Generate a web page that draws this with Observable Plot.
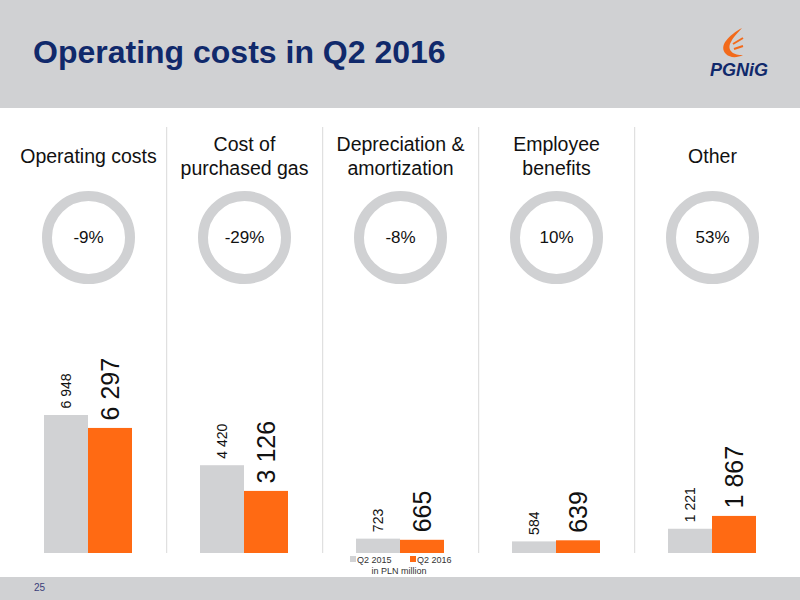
<!DOCTYPE html>
<html>
<head>
<meta charset="utf-8">
<script src="https://cdn.jsdelivr.net/npm/d3@7"></script>
<script src="https://cdn.jsdelivr.net/npm/@observablehq/plot@0.6"></script>
<style>
  html, body { margin: 0; padding: 0; background: #fff; }
  body { width: 800px; height: 600px; position: relative; overflow: hidden; font-family: "Liberation Sans", Arial, sans-serif; }
  #header, #footer, #chart, #legend { position: absolute; left: 0; }
  #header { top: 0; }
  #chart { top: 108px; }
  #footer { top: 577px; }
  #legend { top: 552px; left: 300px; }
</style>
</head>
<body>
<svg id="header" width="800" height="108">
  <rect width="800" height="108" fill="#d0d1d3"></rect>
  <text x="33" y="63" font-family="Liberation Sans, Arial, sans-serif" font-weight="bold" font-size="32" fill="#10296b">Operating costs in Q2 2016</text>
  <path d="M742 28 C729 35 718 46 726 54 C730 58 737 58 743 55 C734 56 726 50 731 42 C733 37 738 33 742 28 Z" fill="#f26a1b"></path>
  <path d="M733 44 L743 38 M734 49 L743 46" stroke="#f26a1b" stroke-width="2" fill="none"></path>
  <text x="739" y="76" text-anchor="middle" font-family="Liberation Sans, Arial, sans-serif" font-weight="bold" font-style="italic" font-size="18" fill="#10296b">PGNiG</text>
</svg>
<div id="chart"></div>
<svg id="legend" width="200" height="26">
  <rect x="50" y="4" width="6" height="6" fill="#d1d2d4"></rect>
  <text x="57" y="10.5" font-size="9" fill="#333">Q2 2015</text>
  <rect x="110" y="4" width="6" height="6" fill="#ff6a13"></rect>
  <text x="117" y="10.5" font-size="9" fill="#333">Q2 2016</text>
  <text x="99" y="22" text-anchor="middle" font-size="9" fill="#333">in PLN million</text>
</svg>
<svg id="footer" width="800" height="23">
  <rect width="800" height="23" fill="#d0d1d3"></rect>
  <text x="34" y="14" font-size="10" fill="#3a3f7a">25</text>
</svg>
<script>
const categories = ["Operating costs", "Cost of purchased gas", "Depreciation & amortization", "Employee benefits", "Other"];
const headerLabels = ["Operating costs", "Cost of\npurchased gas", "Depreciation &\namortization", "Employee\nbenefits", "Other"];
const changeLabels = ["-9%", "-29%", "-8%", "10%", "53%"];
const series = ["Q2 2015", "Q2 2016"];
const q2_2015 = [6948, 4420, 723, 584, 1221];
const q2_2016 = [6297, 3126, 665, 639, 1867];

const rows = [];
categories.forEach((c, i) => {
  rows.push({cat: c, series: series[0], value: q2_2015[i]});
  rows.push({cat: c, series: series[1], value: q2_2016[i]});
});
const panels = categories.map((c, i) => ({cat: c, header: headerLabels[i], change: changeLabels[i]}));
const fmt = v => d3.format(",")(v).replace(/,/g, " ");

const font = "Liberation Sans, Arial, sans-serif";
const plot = Plot.plot({
  width: 800,
  height: 469,
  marginLeft: 8,
  marginRight: 9,
  marginTop: 0,
  marginBottom: 24,
  style: {fontFamily: font, background: "transparent", overflow: "visible"},
  fx: {domain: categories, padding: 0, axis: null},
  x: {domain: series, paddingInner: 0, paddingOuter: 0.74, axis: null},
  y: {domain: [0, 22407], axis: null},
  color: {domain: series, range: ["#d1d2d4", "#ff6a13"]},
  marks: [
    Plot.ruleX(panels.slice(1), {fx: "cat", x: () => series[0], dx: -55.8, stroke: "#d9d9d9", strokeWidth: 1, insetTop: 19}),
    Plot.text(panels, {fx: "cat", text: "header", frameAnchor: "top", dy: 47, fontSize: 19.5, lineHeight: 1.2, fill: "#111", lineAnchor: "middle"}),
    Plot.dot(panels, {fx: "cat", frameAnchor: "top", dy: 129, r: 41.5, stroke: "#d0d1d3", strokeWidth: 10, fill: "none"}),
    Plot.text(panels, {fx: "cat", text: "change", frameAnchor: "top", dy: 129, lineAnchor: "middle", fontSize: 17, fill: "#111"}),
    Plot.barY(rows, {fx: "cat", x: "series", y: "value", fill: "series"}),
    Plot.text(rows.filter(d => d.series === series[0]), {fx: "cat", x: "series", y: "value", text: d => fmt(d.value), rotate: -90, textAnchor: "start", dy: -7, fontSize: 14, fill: "#111"}),
    Plot.text(rows.filter(d => d.series === series[1]), {fx: "cat", x: "series", y: "value", text: d => fmt(d.value), rotate: -90, textAnchor: "start", dy: -8, fontSize: 25, fill: "#111"})
  ]
});
document.getElementById("chart").appendChild(plot);
</script>
</body>
</html>
